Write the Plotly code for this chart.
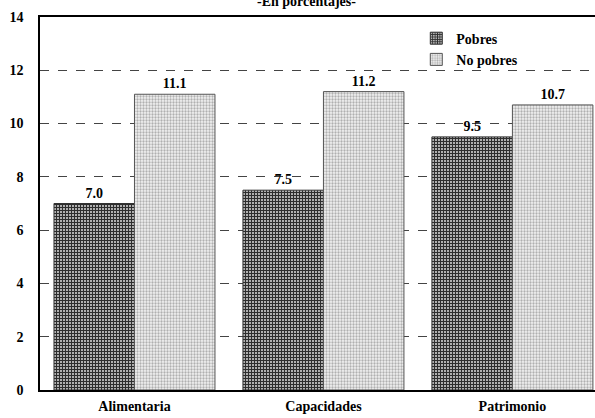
import plotly.graph_objects as go

categories = ["Alimentaria", "Capacidades", "Patrimonio"]
pobres = [7.0, 7.5, 9.5]
no_pobres = [11.1, 11.2, 10.7]
series_names = ["Pobres", "No pobres"]
title_text = "-En porcentajes-"
y_ticks = [0, 2, 4, 6, 8, 10, 12, 14]

FONT = "Liberation Serif"

fig = go.Figure()
fig.add_trace(go.Bar(
    x=categories, y=pobres, name=f"<b>{series_names[0]}</b>",
    text=[f"{v:.1f}" for v in pobres], textposition="outside",
    texttemplate="<b>%{text}</b>",
    textfont=dict(family=FONT, size=14, color="black"),
    cliponaxis=False,
    marker=dict(color="#c8c8c8",
                line=dict(color="#333333", width=1),
                pattern=dict(shape="+", fgcolor="#2e2e2e", bgcolor="#b8b8b8",
                             size=3, solidity=0.6, fillmode="replace")),
))
fig.add_trace(go.Bar(
    x=categories, y=no_pobres, name=f"<b>{series_names[1]}</b>",
    text=[f"{v:.1f}" for v in no_pobres], textposition="outside",
    texttemplate="<b>%{text}</b>",
    textfont=dict(family=FONT, size=14, color="black"),
    cliponaxis=False,
    marker=dict(color="#e8e8e8",
                line=dict(color="#555555", width=1),
                pattern=dict(shape=".", fgcolor="#b0b0b0", bgcolor="#f2f2f2",
                             size=3, solidity=0.45, fillmode="replace")),
))

fig.update_layout(
    width=595, height=418,
    margin=dict(l=40, r=0, t=17, b=28),
    paper_bgcolor="white", plot_bgcolor="white",
    barmode="group", bargap=0.148, bargroupgap=0,
    font=dict(family=FONT, size=14, color="black"),
    showlegend=True,
    legend=dict(x=0.678, y=0.985, xanchor="left", yanchor="top",
                bgcolor="rgba(255,255,255,0)", borderwidth=0,
                font=dict(family=FONT, size=14, color="black"),
                itemwidth=30, tracegroupgap=0),
    annotations=[dict(
        text=f"<b>{title_text}</b>", xref="paper", yref="paper", x=0.48, y=1,
        xanchor="center", yanchor="bottom", yshift=6, showarrow=False,
        font=dict(family=FONT, size=14, color="black"))],
)
fig.update_xaxes(
    range=[-0.5, 2.437], showgrid=False, showline=True, linecolor="black",
    linewidth=1.5, mirror=True, ticks="",
    tickvals=categories, ticktext=[f"<b>{c}</b>" for c in categories],
    tickfont=dict(family=FONT, size=14, color="black"),
    ticklabelstandoff=2,
)
fig.update_yaxes(
    range=[0, 14], tickvals=y_ticks, ticktext=[f"<b>{v}</b>" for v in y_ticks],
    showgrid=True, gridcolor="#444444",
    griddash="dash", gridwidth=1, showline=True, linecolor="black", linewidth=1.5,
    ticks="", zeroline=False, tickfont=dict(family=FONT, size=14, color="black"),
    ticklabelstandoff=12,
)

fig.write_html("out.html", config={"displayModeBar": False},
               post_script="document.body.style.margin='0';document.body.style.overflow='hidden';")
